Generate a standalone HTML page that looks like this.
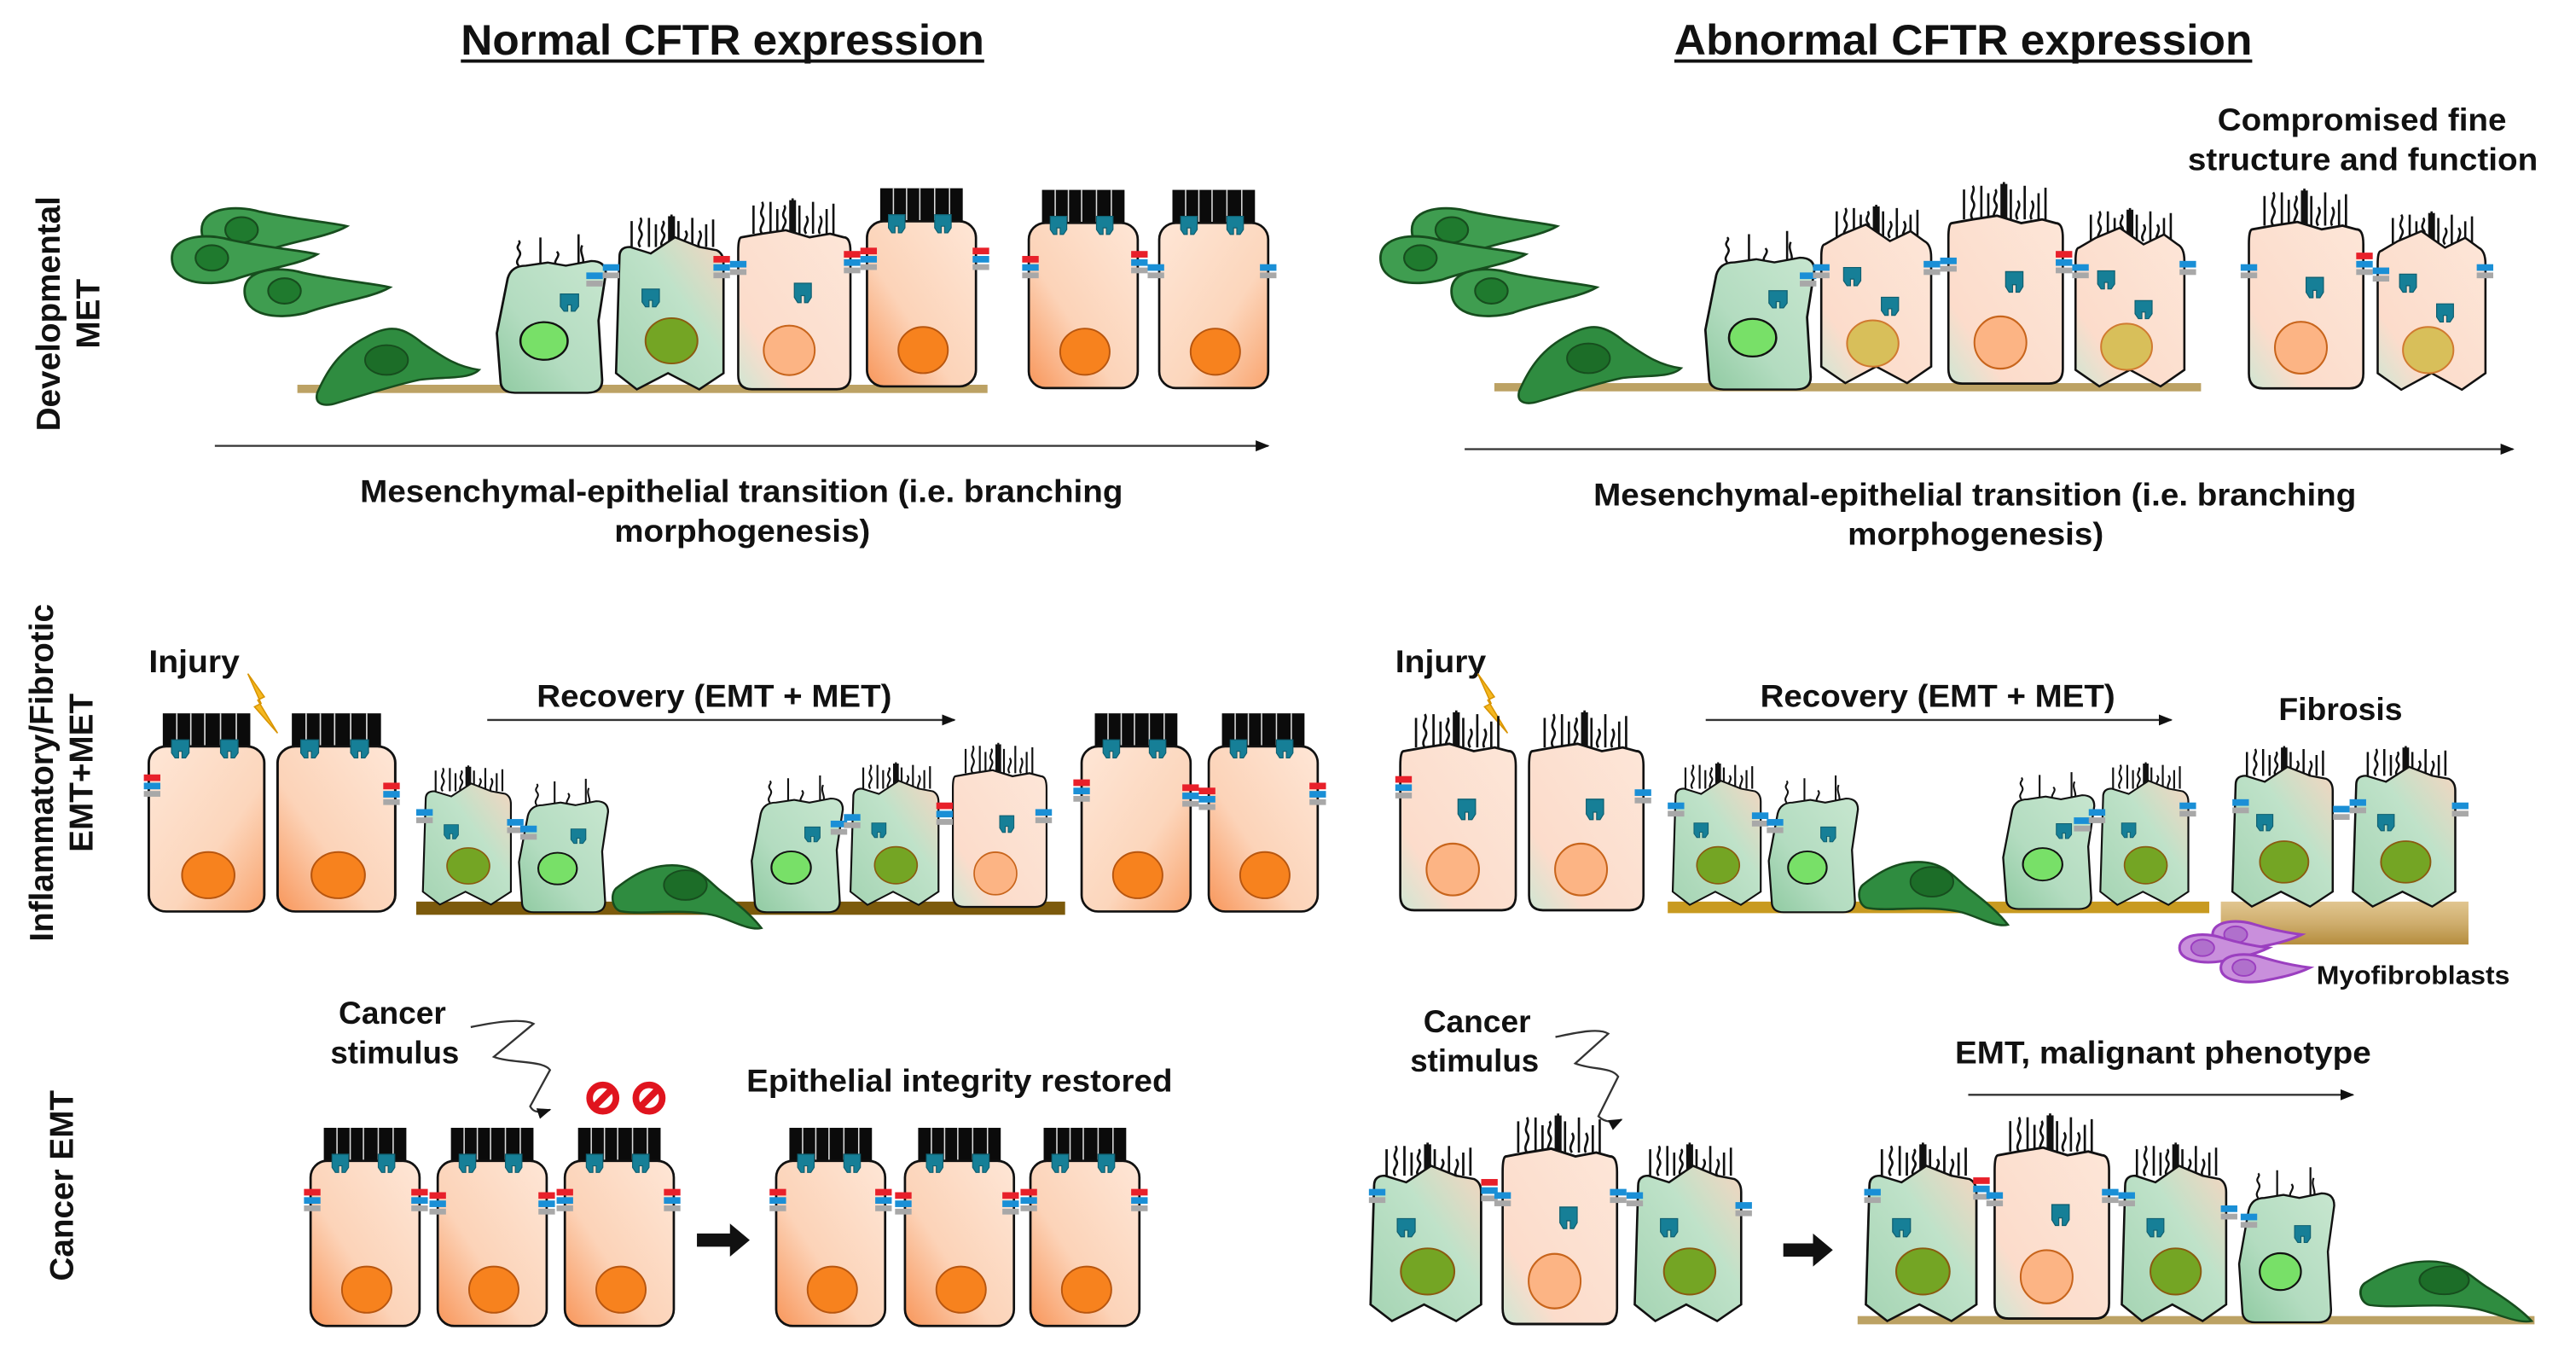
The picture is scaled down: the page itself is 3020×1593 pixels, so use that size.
<!DOCTYPE html>
<html><head><meta charset="utf-8"><style>
html,body{margin:0;padding:0;background:#fff;}
svg{display:block;}
text{font-family:"Liberation Sans",Arial,sans-serif;font-weight:bold;fill:#111;}
</style></head><body>
<svg width="3020" height="1593" viewBox="0 0 1560 823" xmlns="http://www.w3.org/2000/svg">
<defs>
<linearGradient id="peach" x1="1" y1="0" x2="0" y2="1">
<stop offset="0" stop-color="#fee6d6"/><stop offset="0.6" stop-color="#fcd3b8"/><stop offset="1" stop-color="#f8965a"/></linearGradient>
<linearGradient id="peach2" x1="0" y1="0" x2="1" y2="1">
<stop offset="0" stop-color="#fee6d6"/><stop offset="0.6" stop-color="#fcd6bc"/><stop offset="1" stop-color="#f9a46e"/></linearGradient>
<linearGradient id="pale" x1="1" y1="0" x2="0" y2="1">
<stop offset="0" stop-color="#fde6d8"/><stop offset="0.75" stop-color="#fcdccb"/><stop offset="1" stop-color="#cfe6d3"/></linearGradient>
<linearGradient id="green" x1="1" y1="0" x2="0" y2="1">
<stop offset="0" stop-color="#c7e6cf"/><stop offset="0.6" stop-color="#b3dcc0"/><stop offset="1" stop-color="#8fcaa1"/></linearGradient>
<linearGradient id="gp" x1="1" y1="0" x2="0" y2="1">
<stop offset="0" stop-color="#f5d5c0"/><stop offset="0.4" stop-color="#bfe2c9"/><stop offset="1" stop-color="#a5d4b3"/></linearGradient>
<linearGradient id="fib" x1="0" y1="0" x2="0" y2="1">
<stop offset="0" stop-color="#e1c690"/><stop offset="0.5" stop-color="#cfae6e"/><stop offset="1" stop-color="#b58d3e"/></linearGradient>

<g id="jr"><rect x="-5" y="0" width="10" height="4" fill="#e8202a"/><rect x="-5" y="5" width="10" height="4" fill="#1a8fd6"/><rect x="-5" y="10" width="10" height="3.5" fill="#a8a8a8"/></g>
<g id="jb"><rect x="-5" y="0" width="10" height="4" fill="#1a8fd6"/><rect x="-5" y="5" width="10" height="3.5" fill="#a8a8a8"/></g>
<g id="cf"><path d="M-5,0 h10 v8 l-2,3 h-2 v-4 h-2 v4 h-2 l-2,-3z" fill="#167f97" stroke="#0f5f70" stroke-width="0.6"/></g>

<g id="brush"><rect x="0" y="0" width="50" height="24" fill="#0b0b0b"/>
<g stroke="#ddd" stroke-width="0.8"><line x1="8" y1="0" x2="8" y2="24"/><line x1="16" y1="0" x2="16" y2="24"/><line x1="24" y1="0" x2="24" y2="24"/><line x1="33" y1="0" x2="33" y2="24"/><line x1="42" y1="0" x2="42" y2="24"/></g></g>

<g id="tuft" fill="none" stroke="#111" stroke-width="1.3">
<path d="M3,22 v-16 M8,22 c-3,-4 3,-6 0,-10 c-2,-3 2,-5 0,-8 M13,22 v-18 M17,22 v-14 M21,22 c-3,-3 3,-6 0,-9 c-2,-3 2,-5 0,-7 M26,22 v-20 M30,22 v-16 M34,22 c-3,-4 3,-6 0,-10 M38,22 v-18 M42,22 c-2,-3 3,-6 0,-10 M46,22 v-14 M50,22 v-17"/>
<rect x="24" y="3" width="4" height="19" fill="#111" stroke="none"/>
</g>
<g id="tuftS" fill="none" stroke="#111" stroke-width="1.2">
<path d="M5,22 c-3,-4 3,-6 0,-10 c-2,-3 2,-4 0,-6 M17,22 v-18 M26,22 c-3,-3 3,-6 0,-9 M38,22 v-20 M40,22 c2,-5 -2,-8 0,-13"/>
</g>

<g id="nc">
<use href="#brush" x="8" y="0"/>
<rect x="0" y="20" width="66" height="100" rx="10" fill="url(#peach)" stroke="#111" stroke-width="1.4"/>
<ellipse cx="34" cy="98" rx="15" ry="14" fill="#f7821e" stroke="#b8560f" stroke-width="1"/>
<use href="#cf" x="18" y="16"/><use href="#cf" x="46" y="16"/>
</g>
<g id="nc2">
<use href="#brush" x="8" y="0"/>
<rect x="0" y="20" width="66" height="100" rx="10" fill="url(#peach2)" stroke="#111" stroke-width="1.4"/>
<ellipse cx="34" cy="98" rx="15" ry="14" fill="#f7821e" stroke="#b8560f" stroke-width="1"/>
<use href="#cf" x="18" y="16"/><use href="#cf" x="46" y="16"/>
</g>

<g id="pc">
<use href="#tuft" x="6" y="0"/>
<path d="M2,24 q-2,0 -2,8 v70 q0,8 8,8 h50 q8,0 8,-8 v-70 q0,-8 -4,-8 l-8,-2 l-12,2 l-14,-4 l-14,2z" fill="url(#pale)" stroke="#111" stroke-width="1.3"/>
<ellipse cx="30" cy="88" rx="15" ry="14" fill="#fcb484" stroke="#c8651c" stroke-width="1"/>
<use href="#cf" x="38" y="50"/>
</g>
<g id="pcY">
<use href="#tuft" x="6" y="0"/>
<path d="M2,26 q-2,0 -2,8 v66 l14,10 l18,-10 l18,10 l14,-10 v-66 q0,-8 -4,-10 l-8,-6 l-12,6 l-14,-10 l-14,6z" fill="url(#pale)" stroke="#111" stroke-width="1.3"/>
<ellipse cx="30" cy="86" rx="15" ry="14" fill="#d8bf5a" stroke="#d07a30" stroke-width="1"/>
<use href="#cf" x="18" y="40"/><use href="#cf" x="40" y="58"/>
</g>

<g id="gc">
<use href="#tuftS" x="5" y="0"/>
<path d="M4,30 q2,-8 10,-8 l12,-2 l10,2 l14,-3 q8,0 8,8 l-4,30 l2,38 q0,8 -8,8 h-40 q-8,0 -8,-8 l-2,-30z" fill="url(#green)" stroke="#111" stroke-width="1.3"/>
<ellipse cx="24" cy="70" rx="13" ry="12" fill="#78e068" stroke="#111" stroke-width="1.2"/>
<use href="#cf" x="38" y="40"/>
</g>
<g id="gd">
<use href="#tuft" x="6" y="0"/>
<path d="M2,28 q0,-6 6,-6 l12,4 l14,-10 l14,6 l10,2 q4,2 4,8 v68 l-14,10 l-18,-10 l-18,10 l-12,-10z" fill="url(#gp)" stroke="#111" stroke-width="1.3"/>
<ellipse cx="32" cy="80" rx="15" ry="14" fill="#74a524" stroke="#8a5a10" stroke-width="1"/>
<use href="#cf" x="20" y="48"/>
</g>
<g id="mes">
<path d="M0,12 c0,-12 18,-14 32,-10 c18,4 40,6 48,8 c-10,6 -30,8 -46,14 c-16,4 -34,2 -34,-12z" fill="#3f9d50" stroke="#174d1e" stroke-width="1.3"/>
<ellipse cx="22" cy="12" rx="9" ry="7" fill="#1f7a2e" stroke="#174d1e" stroke-width="1"/>
</g>
<g id="mesF">
<path d="M0,40 c6,-14 14,-26 30,-34 c14,-8 22,-6 34,4 c12,8 20,14 34,16 c-6,6 -22,4 -36,6 c-10,2 -30,8 -50,14 c-6,2 -14,2 -12,-6z" fill="#2f8c40" stroke="#174d1e" stroke-width="1.3"/>
<ellipse cx="42" cy="20" rx="13" ry="9" fill="#1c6d28" stroke="#174d1e" stroke-width="1"/>
</g>
<g id="mesC">
<path d="M0,16 c10,-8 20,-14 34,-14 c16,0 22,10 30,16 c8,6 18,14 24,22 c-8,2 -20,-6 -30,-8 c-20,-4 -40,0 -54,-2 c-6,0 -8,-10 -4,-14z" fill="#2f8c40" stroke="#174d1e" stroke-width="1.3"/>
<ellipse cx="42" cy="14" rx="13" ry="9" fill="#1c6d28" stroke="#174d1e" stroke-width="1"/>
</g>
<g id="myo"><path d="M0,8 c0,-8 14,-10 26,-6 c10,3 20,5 28,6 c-8,4 -18,6 -28,8 c-12,2 -26,0 -26,-8z" fill="#c98fdc" stroke="#9b3fc0" stroke-width="1.6"/><ellipse cx="14" cy="8" rx="7" ry="5" fill="#b070cc" stroke="#9b3fc0" stroke-width="1"/></g>
<marker id="ah" viewBox="0 0 10 10" refX="9" refY="5" markerWidth="7" markerHeight="7" orient="auto"><path d="M0,1 L10,5 L0,9z" fill="#111"/></marker>
</defs>

<!-- Titles -->
<text x="279" y="33" font-size="26" textLength="317" lengthAdjust="spacingAndGlyphs">Normal CFTR expression</text>
<line x1="279" y1="37" x2="596" y2="37" stroke="#111" stroke-width="2"/>
<text x="1014" y="33" font-size="26" textLength="350" lengthAdjust="spacingAndGlyphs">Abnormal CFTR expression</text>
<line x1="1014" y1="37" x2="1364" y2="37" stroke="#111" stroke-width="2"/>

<!-- Row labels -->
<text transform="translate(36,190) rotate(-90)" font-size="20" text-anchor="middle">Developmental</text>
<text transform="translate(60,190) rotate(-90)" font-size="20" text-anchor="middle">MET</text>
<text transform="translate(32,468) rotate(-90)" font-size="20" text-anchor="middle">Inflammatory/Fibrotic</text>
<text transform="translate(56,468) rotate(-90)" font-size="20" text-anchor="middle">EMT+MET</text>
<text transform="translate(44,718) rotate(-90)" font-size="20" text-anchor="middle">Cancer EMT</text>

<!-- ROW 1 LEFT -->
<rect x="180" y="233" width="418" height="5" fill="#bca264"/>
<use href="#mes" transform="translate(122,126) scale(1.1)"/>
<use href="#mes" transform="translate(104,143) scale(1.1)"/>
<use href="#mes" transform="translate(148,163) scale(1.1)"/>
<use href="#mesF" x="192" y="198"/>
<use href="#gc" transform="translate(303,140) scale(1.1,0.95)"/>
<use href="#gd" transform="translate(373,128) scale(1.05,0.98)"/>
<use href="#pc" transform="translate(447,118) scale(1.03,1.07)"/>
<use href="#nc" transform="translate(525,114)"/>
<use href="#nc" transform="translate(623,115)"/>
<use href="#nc2" transform="translate(702,115)"/>
<use href="#jb" x="360" y="165"/><use href="#jb" x="370" y="160"/>
<use href="#jr" x="437" y="155"/><use href="#jb" x="447" y="158"/>
<use href="#jr" x="516" y="152"/><use href="#jr" x="526" y="150"/>
<use href="#jr" x="594" y="150"/>
<use href="#jr" x="624" y="155"/><use href="#jr" x="690" y="152"/><use href="#jb" x="700" y="160"/><use href="#jb" x="768" y="160"/>
<line x1="130" y1="270" x2="768" y2="270" stroke="#333" stroke-width="1.2" marker-end="url(#ah)"/>
<text x="218" y="304" font-size="19" textLength="462" lengthAdjust="spacingAndGlyphs">Mesenchymal-epithelial transition (i.e. branching</text>
<text x="372" y="328" font-size="19" textLength="155" lengthAdjust="spacingAndGlyphs">morphogenesis)</text>

<!-- ROW 1 RIGHT -->
<text x="1343" y="79" font-size="19" textLength="175" lengthAdjust="spacingAndGlyphs">Compromised fine</text>
<text x="1325" y="103" font-size="19" textLength="212" lengthAdjust="spacingAndGlyphs">structure and function</text>
<rect x="905" y="232" width="428" height="5" fill="#bca264"/>
<use href="#mes" transform="translate(855,126) scale(1.1)"/>
<use href="#mes" transform="translate(836,143) scale(1.1)"/>
<use href="#mes" transform="translate(879,163) scale(1.1)"/>
<use href="#mesF" x="920" y="197"/>
<use href="#gc" transform="translate(1035,138) scale(1.1,0.95)"/>
<use href="#pcY" transform="translate(1103,122) scale(1.04,1.0)"/>
<use href="#pc" transform="translate(1180,108) scale(1.05,1.13)"/>
<use href="#pcY" transform="translate(1257,124) scale(1.03,1.0)"/>
<use href="#pc" transform="translate(1362,112) scale(1.05,1.12)"/>
<use href="#pcY" transform="translate(1440,126) scale(1.02,1.0)"/>
<use href="#jb" x="1095" y="165"/><use href="#jb" x="1103" y="160"/>
<use href="#jb" x="1170" y="158"/><use href="#jb" x="1180" y="156"/>
<use href="#jr" x="1250" y="152"/><use href="#jb" x="1260" y="160"/><use href="#jb" x="1325" y="158"/>
<use href="#jb" x="1362" y="160"/><use href="#jr" x="1432" y="153"/><use href="#jb" x="1442" y="162"/><use href="#jb" x="1505" y="160"/>
<line x1="887" y1="272" x2="1522" y2="272" stroke="#333" stroke-width="1.2" marker-end="url(#ah)"/>
<text x="965" y="306" font-size="19" textLength="462" lengthAdjust="spacingAndGlyphs">Mesenchymal-epithelial transition (i.e. branching</text>
<text x="1119" y="330" font-size="19" textLength="155" lengthAdjust="spacingAndGlyphs">morphogenesis)</text>

<!-- ROW 2 LEFT -->
<text x="90" y="407" font-size="19" textLength="55" lengthAdjust="spacingAndGlyphs">Injury</text>
<path d="M150,408 l10,14 l-4,2 l12,20 l-14,-16 l4,-2 z" fill="#f5b820" stroke="#d89400" stroke-width="0.8"/>
<use href="#nc2" transform="translate(90,432) scale(1.06,1.0)"/>
<use href="#nc" transform="translate(168,432) scale(1.08,1.0)"/>
<use href="#jr" x="92" y="469"/><use href="#jr" x="237" y="474"/>
<line x1="295" y1="436" x2="578" y2="436" stroke="#333" stroke-width="1.2" marker-end="url(#ah)"/>
<text x="325" y="428" font-size="19" textLength="215" lengthAdjust="spacingAndGlyphs">Recovery (EMT + MET)</text>
<rect x="252" y="546" width="393" height="8" fill="#7c5a0c"/>
<use href="#gd" transform="translate(256,462) scale(0.86,0.78)"/>
<use href="#gc" transform="translate(316,470) scale(0.9,0.8)"/>
<use href="#mesC" transform="translate(373,522)"/>
<use href="#gc" transform="translate(457,468) scale(0.92,0.82)"/>
<use href="#gd" transform="translate(515,460) scale(0.86,0.8)"/>
<use href="#pc" transform="translate(577,448) scale(0.86,0.92)"/>
<use href="#jb" x="257" y="490"/><use href="#jb" x="312" y="496"/><use href="#jb" x="320" y="500"/>
<use href="#jb" x="508" y="497"/><use href="#jb" x="516" y="493"/><use href="#jr" x="572" y="486"/><use href="#jb" x="632" y="490"/>
<use href="#nc2" transform="translate(655,432)"/>
<use href="#nc" transform="translate(732,432)"/>
<use href="#jr" x="655" y="472"/><use href="#jr" x="721" y="475"/><use href="#jr" x="731" y="477"/><use href="#jr" x="798" y="474"/>

<!-- ROW 2 RIGHT -->
<text x="845" y="407" font-size="19" textLength="55" lengthAdjust="spacingAndGlyphs">Injury</text>
<path d="M895,408 l10,14 l-4,2 l12,20 l-14,-16 l4,-2 z" fill="#f5b820" stroke="#d89400" stroke-width="0.8"/>
<use href="#pc" transform="translate(848,428) scale(1.06,1.12)"/>
<use href="#pc" transform="translate(926,428) scale(1.05,1.12)"/>
<use href="#jr" x="850" y="470"/><use href="#jb" x="995" y="478"/>
<line x1="1033" y1="436" x2="1315" y2="436" stroke="#333" stroke-width="1.2" marker-end="url(#ah)"/>
<text x="1066" y="428" font-size="19" textLength="215" lengthAdjust="spacingAndGlyphs">Recovery (EMT + MET)</text>
<rect x="1010" y="546" width="328" height="7" fill="#c89a20"/>
<use href="#gd" transform="translate(1013,460) scale(0.86,0.8)"/>
<use href="#gc" transform="translate(1073,468) scale(0.9,0.82)"/>
<use href="#mesC" transform="translate(1128,520)"/>
<use href="#gc" transform="translate(1215,466) scale(0.92,0.82)"/>
<use href="#gd" transform="translate(1272,460) scale(0.86,0.8)"/>
<use href="#jb" x="1015" y="486"/><use href="#jb" x="1066" y="492"/><use href="#jb" x="1075" y="496"/>
<use href="#jb" x="1261" y="495"/><use href="#jb" x="1270" y="490"/><use href="#jb" x="1325" y="486"/>
<text x="1380" y="436" font-size="19" textLength="75" lengthAdjust="spacingAndGlyphs">Fibrosis</text>
<rect x="1345" y="546" width="150" height="26" fill="url(#fib)"/>
<use href="#gd" transform="translate(1352,450) scale(0.98,0.9)"/>
<use href="#gd" transform="translate(1425,450) scale(1.0,0.9)"/>
<use href="#jb" x="1357" y="484"/><use href="#jb" x="1418" y="488"/><use href="#jb" x="1428" y="484"/><use href="#jb" x="1490" y="486"/>
<use href="#myo" x="1340" y="558"/>
<use href="#myo" x="1320" y="566"/>
<use href="#myo" x="1345" y="578"/>
<text x="1403" y="596" font-size="16" textLength="117" lengthAdjust="spacingAndGlyphs">Myofibroblasts</text>

<!-- ROW 3 LEFT -->
<text x="205" y="620" font-size="19" textLength="65" lengthAdjust="spacingAndGlyphs">Cancer</text>
<text x="200" y="644" font-size="19" textLength="78" lengthAdjust="spacingAndGlyphs">stimulus</text>
<path d="M285,622 c10,-2 30,-6 38,-2 l-24,20 c10,4 30,2 34,8 l-12,22 c2,4 6,4 12,2" fill="none" stroke="#333" stroke-width="1.2" marker-end="url(#ah)"/>
<g fill="none" stroke="#e0141e" stroke-width="4"><circle cx="365" cy="665" r="8"/><line x1="360" y1="670" x2="370" y2="660"/><circle cx="393" cy="665" r="8"/><line x1="388" y1="670" x2="398" y2="660"/></g>
<text x="452" y="661" font-size="19" textLength="258" lengthAdjust="spacingAndGlyphs">Epithelial integrity restored</text>
<use href="#nc" transform="translate(188,683)"/>
<use href="#nc" transform="translate(265,683)"/>
<use href="#nc" transform="translate(342,683)"/>
<use href="#jr" x="189" y="720"/><use href="#jr" x="254" y="720"/><use href="#jr" x="265" y="722"/><use href="#jr" x="331" y="722"/><use href="#jr" x="342" y="720"/><use href="#jr" x="407" y="720"/>
<path d="M422,747 h20 v-6 l12,10 l-12,10 v-6 h-20z" fill="#111"/>
<use href="#nc" transform="translate(470,683)"/>
<use href="#nc" transform="translate(548,683)"/>
<use href="#nc" transform="translate(624,683)"/>
<use href="#jr" x="471" y="720"/><use href="#jr" x="535" y="720"/><use href="#jr" x="547" y="722"/><use href="#jr" x="612" y="722"/><use href="#jr" x="623" y="720"/><use href="#jr" x="690" y="720"/>

<!-- ROW 3 RIGHT -->
<text x="862" y="625" font-size="19" textLength="65" lengthAdjust="spacingAndGlyphs">Cancer</text>
<text x="854" y="649" font-size="19" textLength="78" lengthAdjust="spacingAndGlyphs">stimulus</text>
<path d="M942,628 c10,-2 26,-6 32,-2 l-20,18 c10,4 22,2 26,8 l-12,24 c4,4 10,4 14,2" fill="none" stroke="#333" stroke-width="1.2" marker-end="url(#ah)"/>
<use href="#gd" transform="translate(830,690) scale(1.08,1.0)"/>
<use href="#pc" transform="translate(910,672) scale(1.05,1.18)"/>
<use href="#gd" transform="translate(990,690) scale(1.04,1.0)"/>
<use href="#jb" x="834" y="720"/><use href="#jr" x="902" y="714"/><use href="#jb" x="910" y="722"/><use href="#jb" x="980" y="720"/><use href="#jb" x="990" y="722"/><use href="#jb" x="1056" y="728"/>
<path d="M1080,753 h18 v-6 l12,10 l-12,10 v-6 h-18z" fill="#111"/>
<text x="1184" y="644" font-size="19" textLength="252" lengthAdjust="spacingAndGlyphs">EMT, malignant phenotype</text>
<line x1="1192" y1="663" x2="1425" y2="663" stroke="#333" stroke-width="1.2" marker-end="url(#ah)"/>
<rect x="1125" y="797" width="410" height="5" fill="#bca264"/>
<use href="#gd" transform="translate(1130,690) scale(1.08,1.0)"/>
<use href="#pc" transform="translate(1208,672) scale(1.05,1.15)"/>
<use href="#gd" transform="translate(1285,690) scale(1.02,1.0)"/>
<use href="#gc" transform="translate(1358,705) scale(0.96,0.93)"/>
<use href="#mesC" transform="translate(1432,762) scale(1.15,0.95)"/>
<use href="#jb" x="1134" y="720"/><use href="#jr" x="1200" y="713"/><use href="#jb" x="1208" y="722"/><use href="#jb" x="1278" y="720"/><use href="#jb" x="1288" y="722"/><use href="#jb" x="1350" y="730"/><use href="#jb" x="1362" y="735"/>
</svg>
</body></html>
